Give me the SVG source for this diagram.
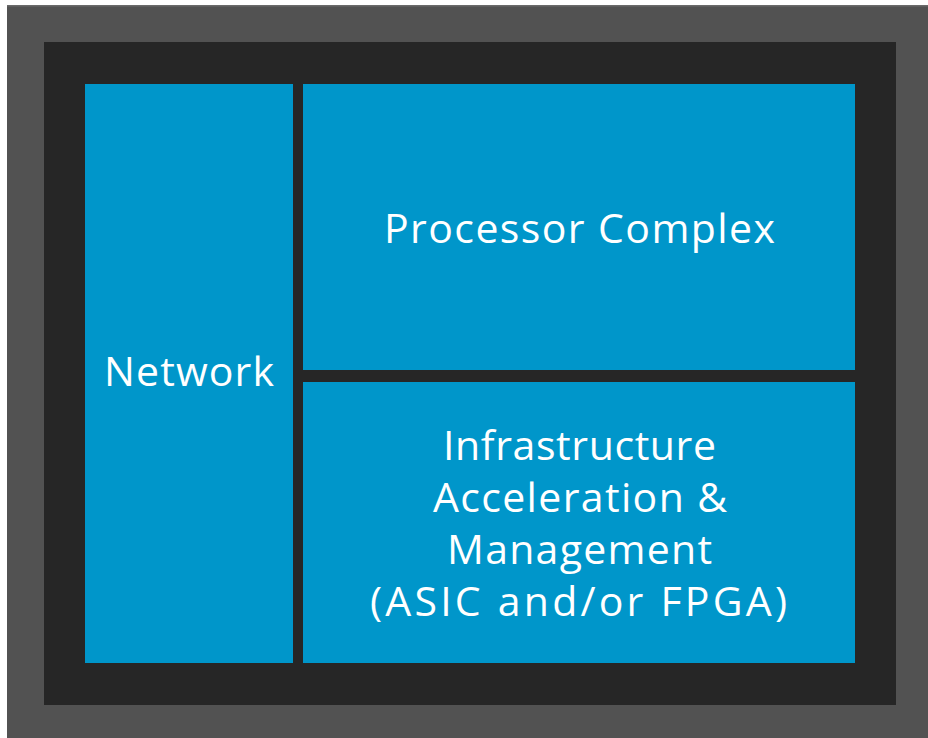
<svg xmlns="http://www.w3.org/2000/svg" width="928" height="738" viewBox="0 0 928 738">
  <style>
    .blk { fill: #0096CA; }
    .lbl { fill: #ffffff; font-family: "Open Sans", "Liberation Sans", sans-serif; font-size: 41px; text-anchor: middle; }
  </style>
  <!-- chassis frame -->
  <rect x="0" y="0" width="928" height="738" fill="#ffffff"/>
  <rect x="7" y="5" width="921" height="733" fill="#525252"/>
  <rect x="7" y="5" width="921" height="1.5" fill="#6a6a6a"/>
  <rect x="44" y="42" width="852" height="663" fill="#262626"/>
  <g id="network">
    <rect class="blk" x="85" y="84" width="208" height="579"/>
    <text class="lbl" x="189" y="386" textLength="170" lengthAdjust="spacing">Network</text>
  </g>
  <g id="processor-complex">
    <rect class="blk" x="303" y="84" width="552" height="286"/>
    <text class="lbl" x="579.5" y="243" textLength="391" lengthAdjust="spacing">Processor Complex</text>
  </g>
  <g id="infrastructure">
    <rect class="blk" x="303" y="382" width="552" height="281"/>
    <text class="lbl" x="579.5" y="460" textLength="273" lengthAdjust="spacing">Infrastructure</text>
    <text class="lbl" x="580" y="512" textLength="294" lengthAdjust="spacing">Acceleration &amp;</text>
    <text class="lbl" x="579.5" y="564" textLength="265" lengthAdjust="spacing">Management</text>
    <text class="lbl" x="578.5" y="616" textLength="417" lengthAdjust="spacing">(ASIC and/or FPGA)</text>
  </g>
  <g id="connectors"/>
</svg>
